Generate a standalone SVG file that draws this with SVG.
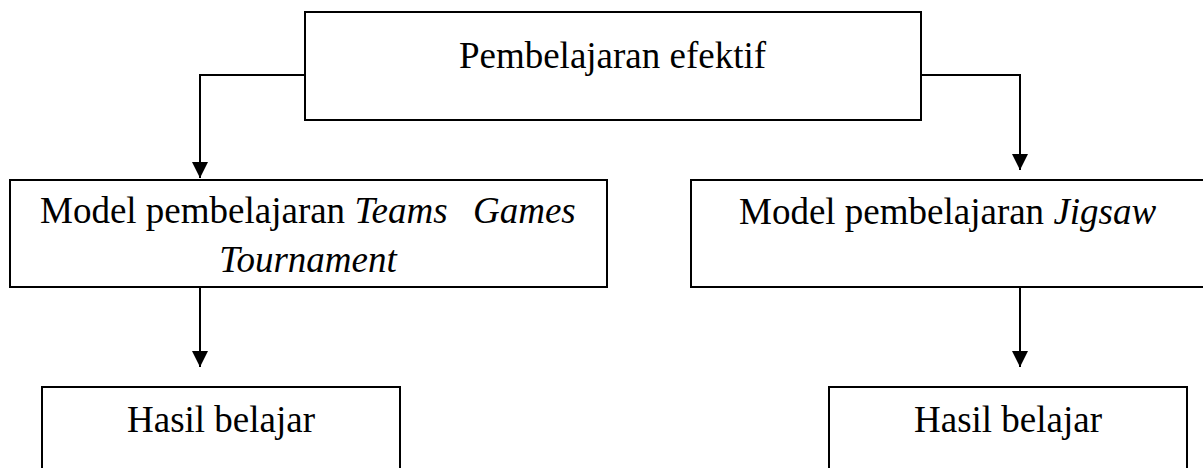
<svg xmlns="http://www.w3.org/2000/svg" width="1203" height="468" viewBox="0 0 1203 468">
<style>
.box{fill:#fff;stroke:#000;stroke-width:2}
.t{font-family:"Liberation Serif","Times New Roman",serif;font-size:37px;fill:#000}
.i{font-style:italic}
.c{fill:none;stroke:#000;stroke-width:2}
</style>
<defs>
<marker id="ah" markerUnits="userSpaceOnUse" markerWidth="16" markerHeight="17" refX="16" refY="8" orient="auto">
<path d="M0,0 L16,8 L0,16 Z" fill="#000"/>
</marker>
</defs>
<rect width="1203" height="468" fill="#fff"/>
<g id="connectors">
<path class="c" d="M305,75 H200 V178" marker-end="url(#ah)"/>
<path class="c" d="M921,75 H1020 V170" marker-end="url(#ah)"/>
<path class="c" d="M200,287 V367" marker-end="url(#ah)"/>
<path class="c" d="M1020,287 V367" marker-end="url(#ah)"/>
</g>
<g id="n-top">
<rect class="box" x="305" y="12" width="616" height="108"/>
<text class="t" x="612.5" y="68" text-anchor="middle">Pembelajaran efektif</text>
</g>
<g id="n-tgt">
<rect class="box" x="10" y="180" width="597" height="107"/>
<text class="t" x="40" y="223">Model pembelajaran <tspan class="i">Teams </tspan><tspan class="i" x="473">Games</tspan></text>
<text class="t i" x="308" y="272" text-anchor="middle">Tournament</text>
</g>
<g id="n-jigsaw">
<rect class="box" x="691" y="180" width="520" height="107"/>
<text class="t" x="739" y="224">Model pembelajaran <tspan class="i">Jigsaw</tspan></text>
</g>
<g id="n-hasil1">
<rect class="box" x="42" y="387" width="358" height="100"/>
<text class="t" x="221" y="432" text-anchor="middle">Hasil belajar</text>
</g>
<g id="n-hasil2">
<rect class="box" x="829" y="387" width="358" height="100"/>
<text class="t" x="1008" y="432" text-anchor="middle">Hasil belajar</text>
</g>
</svg>
